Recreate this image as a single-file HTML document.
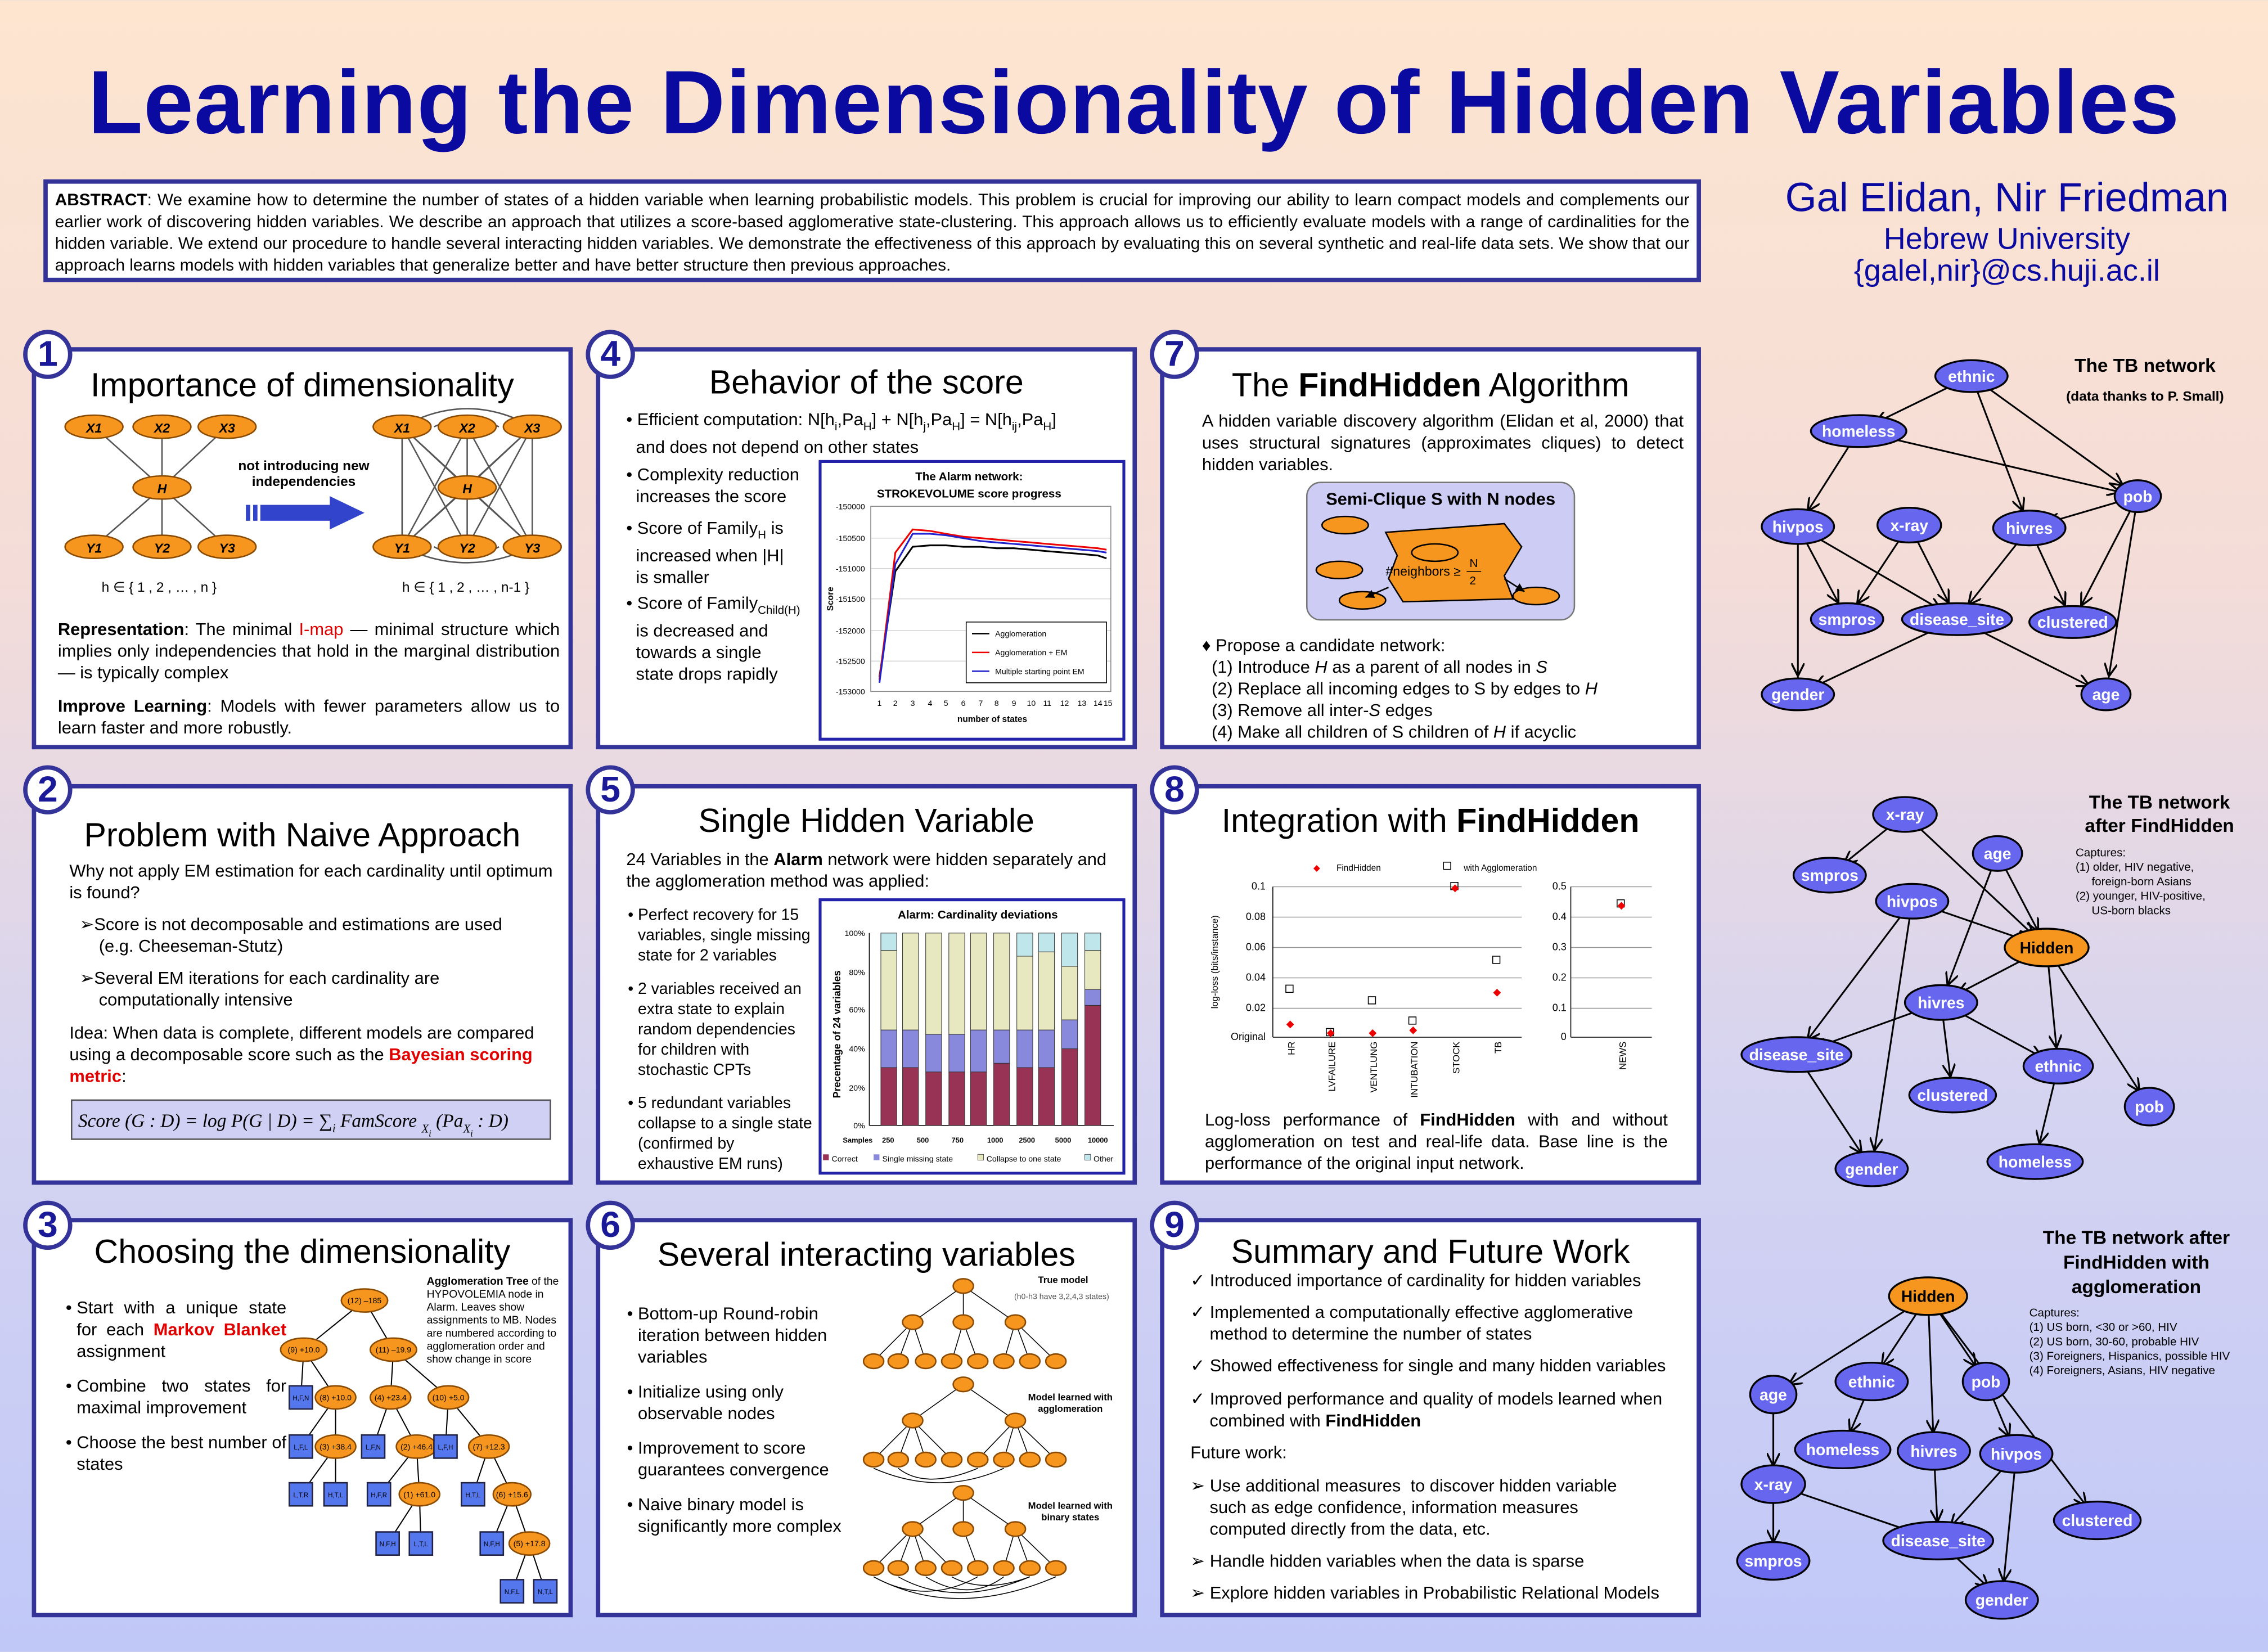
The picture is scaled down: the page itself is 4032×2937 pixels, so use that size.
<!DOCTYPE html>
<html><head><meta charset="utf-8"><style>
html,body{margin:0;padding:0}
body{width:4032px;height:2937px;overflow:hidden;background:linear-gradient(#fde5d0 0%,#f4dcd8 35%,#d6d4f0 65%,#c0c8f8 100%);font-family:"Liberation Sans",sans-serif}
#p{position:absolute;left:0;top:0;width:1568px;height:1142px;transform:scale(2.5714,2.5718);transform-origin:0 0}
.a{position:absolute}
.pn{position:absolute;background:#fff;border:3px solid #333399;box-sizing:border-box}
.num{position:absolute;width:34px;height:34px;border-radius:50%;background:#fff;border:3px solid #333399;box-sizing:border-box;color:#1a1a99;font-weight:bold;font-size:25px;text-align:center;line-height:29px}
.tt{position:absolute;left:0;right:0;text-align:center;font-size:23px;color:#000}
.tx{position:absolute;font-size:12px;line-height:15px;color:#000}
.sm{font-size:11px;line-height:14px}
.red{color:#e00000;font-weight:bold}
ul{margin:0;padding-left:10px}
li{margin-bottom:9px}
svg{position:absolute;overflow:visible}
.nd{fill:#6666ee;stroke:#000;stroke-width:1.3}
.nh{fill:#f7961e;stroke:#000;stroke-width:1.3}
.nl{fill:#fff;font-weight:bold;font-size:11px;text-anchor:middle;font-family:"Liberation Sans",sans-serif}
.ed line{stroke:#000;stroke-width:1.2;marker-end:url(#ar)}
.on{fill:#f7961e;stroke:#8a4a00;stroke-width:1}
.ol{font-size:9px;font-style:italic;font-weight:bold;text-anchor:middle;fill:#000;font-family:"Liberation Sans",sans-serif}
.sq rect{fill:#5577ee;stroke:#224}
</style></head><body><div id="p">
<svg width="0" height="0" style="position:absolute"><defs>
<marker id="ar" viewBox="0 0 10 10" refX="24" refY="5" markerWidth="9" markerHeight="9" markerUnits="userSpaceOnUse" orient="auto"><path d="M0,0 L10,5 L0,10" fill="none" stroke="#000" stroke-width="1.5"/></marker>
<marker id="ar2" viewBox="0 0 10 10" refX="10" refY="5" markerWidth="6" markerHeight="6" markerUnits="userSpaceOnUse" orient="auto"><path d="M0,0 L10,5 L0,10z" fill="#000"/></marker>
</defs></svg>

<div class="a" style="left:0;right:0;top:36px;text-align:center;font-size:62px;font-weight:bold;color:#0a0aa0;letter-spacing:0.5px">Learning the Dimensionality of Hidden Variables</div>

<div class="a" style="left:30px;top:124px;width:1146px;height:71px;background:#fff;border:3px solid #333399;box-sizing:border-box;padding:4px 5px;font-size:11.6px;line-height:15px;text-align:justify"><b>ABSTRACT</b>: We examine how to determine the number of states of a hidden variable when learning probabilistic models. This problem is crucial for improving our ability to learn compact models and complements our earlier work of discovering hidden variables. We describe an approach that utilizes a score-based agglomerative state-clustering. This approach allows us to efficiently evaluate models with a range of cardinalities for the hidden variable. We extend our procedure to handle several interacting hidden variables. We demonstrate the effectiveness of this approach by evaluating this on several synthetic and real-life data sets. We show that our approach learns models with hidden variables that generalize better and have better structure then previous approaches.</div>

<div class="a" style="left:1200px;width:375px;top:120px;text-align:center;color:#0a0aa0">
<div style="font-size:28px;line-height:34px">Gal Elidan, Nir Friedman</div>
<div style="font-size:21px;line-height:23px">Hebrew University</div>
<div style="font-size:21px;line-height:22px">{galel,nir}@cs.huji.ac.il</div></div>

<!-- Panel 1 -->
<div class="pn" style="left:22px;top:240px;width:374px;height:278px">
<div class="tt" style="top:10px">Importance of dimensionality</div>
<div class="tx" style="left:15px;top:185px;width:347px;text-align:justify"><b>Representation</b>: The minimal <span class="red" style="font-weight:normal">I-map</span> — minimal structure which implies only independencies that hold in the marginal distribution — is typically complex</div>
<div class="tx" style="left:15px;top:238px;width:347px;text-align:justify"><b>Improve Learning</b>: Models with fewer parameters allow us to learn faster and more robustly.</div>
</div>
<svg style="left:0;top:0" width="1568" height="1142">
<g stroke="#555" stroke-width="1" fill="none">
<line x1="65" y1="295" x2="112" y2="337"/><line x1="112" y1="295" x2="112" y2="337"/><line x1="157" y1="295" x2="112" y2="337"/>
<line x1="112" y1="337" x2="65" y2="378"/><line x1="112" y1="337" x2="112" y2="378"/><line x1="112" y1="337" x2="157" y2="378"/>
<line x1="278" y1="295" x2="323" y2="337"/><line x1="323" y1="295" x2="323" y2="337"/><line x1="368" y1="295" x2="323" y2="337"/>
<line x1="323" y1="337" x2="278" y2="378"/><line x1="323" y1="337" x2="323" y2="378"/><line x1="323" y1="337" x2="368" y2="378"/>
<line x1="278" y1="295" x2="323" y2="378"/><line x1="278" y1="295" x2="368" y2="378"/><line x1="323" y1="295" x2="278" y2="378"/><line x1="323" y1="295" x2="368" y2="378"/><line x1="368" y1="295" x2="278" y2="378"/><line x1="368" y1="295" x2="323" y2="378"/>
<line x1="278" y1="295" x2="278" y2="378"/><line x1="368" y1="295" x2="368" y2="378"/>
<path d="M278,295 Q323,270 368,295"/><path d="M278,378 Q323,400 368,378"/><path d="M300,295 Q323,285 345,295"/><path d="M300,378 Q323,390 345,378"/>
</g>
<g>
<ellipse class="on" cx="65" cy="295" rx="20" ry="8"/><ellipse class="on" cx="112" cy="295" rx="20" ry="8"/><ellipse class="on" cx="157" cy="295" rx="20" ry="8"/>
<ellipse class="on" cx="112" cy="337" rx="20" ry="8"/>
<ellipse class="on" cx="65" cy="378" rx="20" ry="8"/><ellipse class="on" cx="112" cy="378" rx="20" ry="8"/><ellipse class="on" cx="157" cy="378" rx="20" ry="8"/>
<ellipse class="on" cx="278" cy="295" rx="20" ry="8"/><ellipse class="on" cx="323" cy="295" rx="20" ry="8"/><ellipse class="on" cx="368" cy="295" rx="20" ry="8"/>
<ellipse class="on" cx="323" cy="337" rx="20" ry="8"/>
<ellipse class="on" cx="278" cy="378" rx="20" ry="8"/><ellipse class="on" cx="323" cy="378" rx="20" ry="8"/><ellipse class="on" cx="368" cy="378" rx="20" ry="8"/>
</g>
<g class="ol"><text x="65" y="299">X1</text><text x="112" y="299">X2</text><text x="157" y="299">X3</text><text x="112" y="341">H</text><text x="65" y="382">Y1</text><text x="112" y="382">Y2</text><text x="157" y="382">Y3</text>
<text x="278" y="299">X1</text><text x="323" y="299">X2</text><text x="368" y="299">X3</text><text x="323" y="341">H</text><text x="278" y="382">Y1</text><text x="323" y="382">Y2</text><text x="368" y="382">Y3</text></g>
<text x="210" y="325" font-size="9.5" font-weight="bold" text-anchor="middle" font-family="Liberation Sans">not introducing new</text>
<text x="210" y="336" font-size="9.5" font-weight="bold" text-anchor="middle" font-family="Liberation Sans">independencies</text>
<rect x="170" y="349" width="3" height="11" fill="#3344cc"/><rect x="175" y="349" width="3" height="11" fill="#3344cc"/><rect x="180" y="349" width="50" height="11" fill="#3344cc"/>
<path d="M228,343 L252,354.5 L228,366z" fill="#3344cc"/>
<text x="110" y="409" font-size="9.5" text-anchor="middle" font-family="Liberation Sans">h ∈ { 1 , 2 , … , n }</text>
<text x="322" y="409" font-size="9.5" text-anchor="middle" font-family="Liberation Sans">h ∈ { 1 , 2 , … , n-1 }</text>
</svg>

<!-- Panel 2 -->
<div class="pn" style="left:22px;top:542px;width:374px;height:277px">
<div class="tt" style="top:19px">Problem with Naive Approach</div>
<div class="tx" style="left:23px;top:50px;width:340px">Why not apply EM estimation for each cardinality until optimum is found?</div>
<div class="tx" style="left:30px;top:87px;width:340px">➢Score is not decomposable and estimations are used<br>&nbsp;&nbsp;&nbsp;&nbsp;(e.g. Cheeseman-Stutz)</div>
<div class="tx" style="left:30px;top:124px;width:340px">➢Several EM iterations for each cardinality are<br>&nbsp;&nbsp;&nbsp;&nbsp;computationally intensive</div>
<div class="tx" style="left:23px;top:162px;width:340px">Idea: When data is complete, different models are compared using a decomposable score such as the <span class="red" style="font-weight:bold">Bayesian scoring metric</span>:</div>
<div class="a" style="left:24px;top:215px;width:332px;height:28px;background:#d0d0f4;border:1px solid #555;font-family:'Liberation Serif',serif;font-style:italic;font-size:13px;line-height:28px;padding-left:4px;box-sizing:border-box;white-space:nowrap;overflow:hidden">Score (G : D) = log P(G | D) = ∑<sub style="font-size:8px">i</sub> FamScore <sub style="font-size:8px">X<sub>i</sub></sub> (Pa<sub style="font-size:8px">X<sub>i</sub></sub> : D)</div>
</div>

<!-- Panel 3 -->
<div class="pn" style="left:22px;top:842px;width:374px;height:276px">
<div class="tt" style="top:7px">Choosing the dimensionality</div>
<div class="tx" style="left:18px;top:52px;width:155px;text-align:justify"><ul style="list-style:'• ';padding-left:10px"><li>Start with a unique state for each <span class="red">Markov Blanket</span> assignment</li><li>Combine two states for maximal improvement</li><li>Choose the best number of states</li></ul></div>
<div class="tx" style="left:270px;top:36px;width:95px;font-size:7.5px;line-height:9px"><b>Agglomeration Tree</b> of the HYPOVOLEMIA node in Alarm. Leaves show assignments to MB. Nodes are numbered according to agglomeration order and show change in score</div>
</div>
<svg style="left:0;top:0" width="1568" height="1142">
<g stroke="#000" stroke-width="0.8">
<line x1="252" y1="899" x2="210" y2="933"/><line x1="252" y1="899" x2="272" y2="933"/>
<line x1="210" y1="933" x2="208" y2="966"/><line x1="210" y1="933" x2="232" y2="966"/>
<line x1="232" y1="966" x2="208" y2="1000"/><line x1="232" y1="966" x2="232" y2="1000"/>
<line x1="232" y1="1000" x2="208" y2="1033"/><line x1="232" y1="1000" x2="232" y2="1033"/>
<line x1="272" y1="933" x2="270" y2="966"/><line x1="272" y1="933" x2="310" y2="966"/>
<line x1="270" y1="966" x2="258" y2="1000"/><line x1="270" y1="966" x2="288" y2="1000"/>
<line x1="288" y1="1000" x2="262" y2="1033"/><line x1="288" y1="1000" x2="290" y2="1033"/>
<line x1="290" y1="1033" x2="268" y2="1067"/><line x1="290" y1="1033" x2="291" y2="1067"/>
<line x1="310" y1="966" x2="308" y2="1000"/><line x1="310" y1="966" x2="338" y2="1000"/>
<line x1="338" y1="1000" x2="327" y2="1033"/><line x1="338" y1="1000" x2="354" y2="1033"/>
<line x1="354" y1="1033" x2="340" y2="1067"/><line x1="354" y1="1033" x2="366" y2="1067"/>
<line x1="366" y1="1067" x2="354" y2="1100"/><line x1="366" y1="1067" x2="377" y2="1100"/>
</g>
<g class="on"><ellipse cx="252" cy="899" rx="16" ry="8"/><ellipse cx="210" cy="933" rx="16" ry="8"/><ellipse cx="272" cy="933" rx="16" ry="8"/><ellipse cx="232" cy="966" rx="14" ry="8"/><ellipse cx="270" cy="966" rx="14" ry="8"/><ellipse cx="310" cy="966" rx="14" ry="8"/><ellipse cx="232" cy="1000" rx="14" ry="8"/><ellipse cx="288" cy="1000" rx="14" ry="8"/><ellipse cx="338" cy="1000" rx="14" ry="8"/><ellipse cx="290" cy="1033" rx="14" ry="8"/><ellipse cx="354" cy="1033" rx="13" ry="8"/><ellipse cx="366" cy="1067" rx="14" ry="8"/></g>
<g class="sq"><rect x="200" y="958" width="16" height="16"/><rect x="200" y="992" width="16" height="16"/><rect x="200" y="1025" width="16" height="16"/><rect x="224" y="1025" width="16" height="16"/><rect x="250" y="992" width="16" height="16"/><rect x="254" y="1025" width="16" height="16"/><rect x="300" y="992" width="16" height="16"/><rect x="260" y="1059" width="16" height="16"/><rect x="283" y="1059" width="16" height="16"/><rect x="319" y="1025" width="16" height="16"/><rect x="332" y="1059" width="16" height="16"/><rect x="346" y="1092" width="16" height="16"/><rect x="369" y="1092" width="16" height="16"/></g>
<g font-size="4.5" text-anchor="middle" font-family="Liberation Sans"><text x="208" y="968">H,F,N</text><text x="208" y="1002">L,F,L</text><text x="208" y="1035">L,T,R</text><text x="232" y="1035">H,T,L</text><text x="258" y="1002">L,F,N</text><text x="262" y="1035">H,F,R</text><text x="308" y="1002">L,F,H</text><text x="268" y="1069">N,F,H</text><text x="291" y="1069">L,T,L</text><text x="327" y="1035">H,T,L</text><text x="340" y="1069">N,F,H</text><text x="354" y="1102">N,F,L</text><text x="377" y="1102">N,T,L</text></g>
<g font-size="5.5" text-anchor="middle" font-family="Liberation Sans"><text x="252" y="901">(12) –185</text><text x="210" y="935">(9) +10.0</text><text x="272" y="935">(11) –19.9</text><text x="232" y="968">(8) +10.0</text><text x="270" y="968">(4) +23.4</text><text x="310" y="968">(10) +5.0</text><text x="232" y="1002">(3) +38.4</text><text x="288" y="1002">(2) +46.4</text><text x="338" y="1002">(7) +12.3</text><text x="290" y="1035">(1) +61.0</text><text x="354" y="1035">(6) +15.6</text><text x="366" y="1069">(5) +17.8</text></g>
</svg>

<!-- Panel 4 -->
<div class="pn" style="left:412px;top:240px;width:374px;height:278px">
<div class="tt" style="top:8px">Behavior of the score</div>
<div class="tx" style="left:18px;top:40px;width:345px">• Efficient computation: N[h<sub style="font-size:8px">i</sub>,Pa<sub style="font-size:8px">H</sub>] + N[h<sub style="font-size:8px">j</sub>,Pa<sub style="font-size:8px">H</sub>] = N[h<sub style="font-size:8px">ij</sub>,Pa<sub style="font-size:8px">H</sub>]<br>&nbsp;&nbsp;and does not depend on other states</div>
<div class="tx" style="left:18px;top:78px;width:140px">• Complexity reduction<br>&nbsp;&nbsp;increases the score</div>
<div class="tx" style="left:18px;top:115px;width:140px">• Score of Family<sub style="font-size:8px">H</sub> is<br>&nbsp;&nbsp;increased when |H|<br>&nbsp;&nbsp;is smaller</div>
<div class="tx" style="left:18px;top:167px;width:140px">• Score of Family<sub style="font-size:8px">Child(H)</sub><br>&nbsp;&nbsp;is decreased and<br>&nbsp;&nbsp;towards a single<br>&nbsp;&nbsp;state drops rapidly</div>
<div class="a" style="left:151px;top:75px;width:212px;height:194px;border:2px solid #2222aa;box-sizing:border-box;background:#fff"></div>
</div>
<svg style="left:0;top:0" width="1568" height="1142">
<text x="670" y="332" font-size="8" font-weight="bold" text-anchor="middle" font-family="Liberation Sans">The Alarm network:</text>
<text x="670" y="344" font-size="8" font-weight="bold" text-anchor="middle" font-family="Liberation Sans">STROKEVOLUME score progress</text>
<g stroke="#ccc" stroke-width="0.5"><line x1="602" y1="350" x2="768" y2="350"/><line x1="602" y1="372" x2="768" y2="372"/><line x1="602" y1="393" x2="768" y2="393"/><line x1="602" y1="414" x2="768" y2="414"/><line x1="602" y1="436" x2="768" y2="436"/><line x1="602" y1="457" x2="768" y2="457"/></g>
<rect x="602" y="350" width="166" height="128" fill="none" stroke="#888" stroke-width="0.6"/>
<g font-size="5.5" text-anchor="end" font-family="Liberation Sans"><text x="598" y="352">-150000</text><text x="598" y="374">-150500</text><text x="598" y="395">-151000</text><text x="598" y="416">-151500</text><text x="598" y="438">-152000</text><text x="598" y="459">-152500</text><text x="598" y="480">-153000</text></g>
<g font-size="5.5" text-anchor="middle" font-family="Liberation Sans"><text x="608" y="488">1</text><text x="619" y="488">2</text><text x="631" y="488">3</text><text x="643" y="488">4</text><text x="654" y="488">5</text><text x="666" y="488">6</text><text x="678" y="488">7</text><text x="689" y="488">8</text><text x="701" y="488">9</text><text x="713" y="488">10</text><text x="724" y="488">11</text><text x="736" y="488">12</text><text x="748" y="488">13</text><text x="759" y="488">14</text><text x="766" y="488">15</text></g>
<text x="686" y="499" font-size="6" font-weight="bold" text-anchor="middle" font-family="Liberation Sans">number of states</text>
<text x="576" y="414" font-size="6" font-weight="bold" text-anchor="middle" transform="rotate(-90 576 414)" font-family="Liberation Sans">Score</text>
<polyline fill="none" stroke="#000" stroke-width="1.2" points="608,468 619,395 631,378 643,377 654,377 666,378 678,378 689,379 701,379 713,380 724,381 736,382 748,383 759,384 765,386"/>
<polyline fill="none" stroke="#e00" stroke-width="1.2" points="608,470 619,382 631,366 643,367 654,369 666,371 678,372 689,373 701,374 713,375 724,376 736,377 748,378 759,379 765,380"/>
<polyline fill="none" stroke="#22c" stroke-width="1.2" points="608,472 619,390 631,369 643,369 654,370 666,372 678,374 689,375 701,376 713,377 724,378 736,379 748,380 759,381 765,382"/>
<rect x="668" y="430" width="97" height="42" fill="#fff" stroke="#000" stroke-width="0.6"/>
<g font-size="5.5" font-family="Liberation Sans"><line x1="672" y1="438" x2="684" y2="438" stroke="#000"/><text x="688" y="440">Agglomeration</text><line x1="672" y1="451" x2="684" y2="451" stroke="#e00"/><text x="688" y="453">Agglomeration + EM</text><line x1="672" y1="464" x2="684" y2="464" stroke="#22c"/><text x="688" y="466">Multiple starting point EM</text></g>
</svg>

<!-- Panel 5 -->
<div class="pn" style="left:412px;top:542px;width:374px;height:277px">
<div class="tt" style="top:9px">Single Hidden Variable</div>
<div class="tx" style="left:18px;top:42px;width:345px">24 Variables in the <b>Alarm</b> network were hidden separately and the agglomeration method was applied:</div>
<div class="tx sm" style="left:18px;top:81px;width:130px"><ul style="list-style:'• ';padding-left:8px"><li>Perfect recovery for 15 variables, single missing state for 2 variables</li><li>2 variables received an extra state to explain random dependencies for children with stochastic CPTs</li><li>5 redundant variables collapse to a single state (confirmed by exhaustive EM runs)</li></ul></div>
<div class="a" style="left:151px;top:76px;width:212px;height:191px;border:2px solid #2222aa;box-sizing:border-box;background:#fff"></div>
</div>
<svg style="left:0;top:0" width="1568" height="1142">
<text x="676" y="635" font-size="8" font-weight="bold" text-anchor="middle" font-family="Liberation Sans">Alarm: Cardinality deviations</text>
<text x="581" y="715" font-size="7" font-weight="bold" text-anchor="middle" transform="rotate(-90 581 715)" font-family="Liberation Sans">Precentage of 24 variables</text>
<g font-size="5.5" text-anchor="end" font-family="Liberation Sans"><text x="598" y="647">100%</text><text x="598" y="674">80%</text><text x="598" y="700">60%</text><text x="598" y="727">40%</text><text x="598" y="754">20%</text><text x="598" y="780">0%</text></g>
<line x1="601" y1="645" x2="601" y2="778" stroke="#000" stroke-width="0.6"/><line x1="601" y1="778" x2="770" y2="778" stroke="#000" stroke-width="0.6"/>
<g stroke="#333" stroke-width="0.4">
<rect x="609" y="738" width="11" height="40" fill="#993355"/><rect x="609" y="712" width="11" height="26" fill="#8888dd"/><rect x="609" y="657" width="11" height="55" fill="#e8e8c0"/><rect x="609" y="645" width="11" height="12" fill="#bfe6ea"/>
<rect x="624" y="738" width="11" height="40" fill="#993355"/><rect x="624" y="712" width="11" height="26" fill="#8888dd"/><rect x="624" y="645" width="11" height="67" fill="#e8e8c0"/>
<rect x="640" y="741" width="11" height="37" fill="#993355"/><rect x="640" y="715" width="11" height="26" fill="#8888dd"/><rect x="640" y="645" width="11" height="70" fill="#e8e8c0"/>
<rect x="656" y="741" width="11" height="37" fill="#993355"/><rect x="656" y="715" width="11" height="26" fill="#8888dd"/><rect x="656" y="645" width="11" height="70" fill="#e8e8c0"/>
<rect x="671" y="741" width="11" height="37" fill="#993355"/><rect x="671" y="712" width="11" height="29" fill="#8888dd"/><rect x="671" y="645" width="11" height="67" fill="#e8e8c0"/>
<rect x="687" y="735" width="11" height="43" fill="#993355"/><rect x="687" y="712" width="11" height="23" fill="#8888dd"/><rect x="687" y="645" width="11" height="67" fill="#e8e8c0"/>
<rect x="703" y="738" width="11" height="40" fill="#993355"/><rect x="703" y="712" width="11" height="26" fill="#8888dd"/><rect x="703" y="661" width="11" height="51" fill="#e8e8c0"/><rect x="703" y="645" width="11" height="16" fill="#bfe6ea"/>
<rect x="718" y="738" width="11" height="40" fill="#993355"/><rect x="718" y="712" width="11" height="26" fill="#8888dd"/><rect x="718" y="658" width="11" height="54" fill="#e8e8c0"/><rect x="718" y="645" width="11" height="13" fill="#bfe6ea"/>
<rect x="734" y="725" width="11" height="53" fill="#993355"/><rect x="734" y="705" width="11" height="20" fill="#8888dd"/><rect x="734" y="668" width="11" height="37" fill="#e8e8c0"/><rect x="734" y="645" width="11" height="23" fill="#bfe6ea"/>
<rect x="750" y="695" width="11" height="83" fill="#993355"/><rect x="750" y="684" width="11" height="11" fill="#8888dd"/><rect x="750" y="657" width="11" height="27" fill="#e8e8c0"/><rect x="750" y="645" width="11" height="12" fill="#bfe6ea"/>
</g>
<g font-size="5" font-weight="bold" text-anchor="middle" font-family="Liberation Sans"><text x="593" y="790">Samples</text><text x="614" y="790">250</text><text x="638" y="790">500</text><text x="662" y="790">750</text><text x="688" y="790">1000</text><text x="710" y="790">2500</text><text x="735" y="790">5000</text><text x="759" y="790">10000</text></g>
<g font-size="5.5" font-family="Liberation Sans"><rect x="569" y="798" width="4" height="4" fill="#993355"/><text x="575" y="803">Correct</text><rect x="604" y="798" width="4" height="4" fill="#8888dd"/><text x="610" y="803">Single missing state</text><rect x="676" y="798" width="4" height="4" fill="#e8e8c0" stroke="#333" stroke-width="0.3"/><text x="682" y="803">Collapse to one state</text><rect x="750" y="798" width="4" height="4" fill="#bfe6ea" stroke="#333" stroke-width="0.3"/><text x="756" y="803">Other</text></g>
</svg>

<!-- Panel 6 -->
<div class="pn" style="left:412px;top:842px;width:374px;height:276px">
<div class="tt" style="top:9px">Several interacting variables</div>
<div class="tx" style="left:18px;top:56px;width:165px"><ul style="list-style:'• ';padding-left:8px"><li>Bottom-up Round-robin iteration between hidden variables</li><li>Initialize using only observable nodes</li><li>Improvement to score guarantees convergence</li><li>Naive binary model is significantly more complex</li></ul></div>
</div>
<svg style="left:0;top:0" width="1568" height="1142">
<g stroke="#000" stroke-width="0.6">
<line x1="666" y1="889" x2="631" y2="914"/><line x1="666" y1="889" x2="666" y2="914"/><line x1="666" y1="889" x2="702" y2="914"/>
<line x1="631" y1="914" x2="604" y2="941"/><line x1="631" y1="914" x2="621" y2="941"/><line x1="631" y1="914" x2="640" y2="941"/><line x1="666" y1="914" x2="658" y2="941"/><line x1="666" y1="914" x2="676" y2="941"/><line x1="702" y1="914" x2="694" y2="941"/><line x1="702" y1="914" x2="712" y2="941"/><line x1="702" y1="914" x2="730" y2="941"/>
<line x1="666" y1="957" x2="631" y2="982"/><line x1="666" y1="957" x2="702" y2="982"/>
<line x1="631" y1="982" x2="604" y2="1009"/><line x1="631" y1="982" x2="621" y2="1009"/><line x1="631" y1="982" x2="640" y2="1009"/><line x1="631" y1="982" x2="658" y2="1009"/><line x1="702" y1="982" x2="676" y2="1009"/><line x1="702" y1="982" x2="694" y2="1009"/><line x1="702" y1="982" x2="712" y2="1009"/><line x1="702" y1="982" x2="730" y2="1009"/>
<line x1="666" y1="1032" x2="631" y2="1057"/><line x1="666" y1="1032" x2="702" y2="1057"/><line x1="666" y1="1032" x2="666" y2="1057"/>
<line x1="631" y1="1057" x2="604" y2="1084"/><line x1="631" y1="1057" x2="621" y2="1084"/><line x1="631" y1="1057" x2="640" y2="1084"/><line x1="631" y1="1057" x2="658" y2="1084"/><line x1="666" y1="1057" x2="676" y2="1084"/><line x1="702" y1="1057" x2="694" y2="1084"/><line x1="702" y1="1057" x2="712" y2="1084"/><line x1="702" y1="1057" x2="730" y2="1084"/>
</g>
<g fill="none" stroke="#000" stroke-width="0.6"><path d="M621,1015 Q640,1030 676,1015"/><path d="M604,1015 Q650,1035 694,1015"/><path d="M604,1090 Q660,1120 730,1090"/><path d="M621,1090 Q660,1112 712,1090"/><path d="M640,1090 Q670,1108 694,1090"/><path d="M658,1090 Q680,1102 712,1090"/><path d="M604,1090 Q640,1110 676,1090"/></g>
<g class="on">
<ellipse cx="666" cy="889" rx="7" ry="5"/><ellipse cx="631" cy="914" rx="7" ry="5"/><ellipse cx="666" cy="914" rx="7" ry="5"/><ellipse cx="702" cy="914" rx="7" ry="5"/>
<ellipse cx="604" cy="941" rx="7" ry="5"/><ellipse cx="621" cy="941" rx="7" ry="5"/><ellipse cx="640" cy="941" rx="7" ry="5"/><ellipse cx="658" cy="941" rx="7" ry="5"/><ellipse cx="676" cy="941" rx="7" ry="5"/><ellipse cx="694" cy="941" rx="7" ry="5"/><ellipse cx="712" cy="941" rx="7" ry="5"/><ellipse cx="730" cy="941" rx="7" ry="5"/>
<ellipse cx="666" cy="957" rx="7" ry="5"/><ellipse cx="631" cy="982" rx="7" ry="5"/><ellipse cx="702" cy="982" rx="7" ry="5"/>
<ellipse cx="604" cy="1009" rx="7" ry="5"/><ellipse cx="621" cy="1009" rx="7" ry="5"/><ellipse cx="640" cy="1009" rx="7" ry="5"/><ellipse cx="658" cy="1009" rx="7" ry="5"/><ellipse cx="676" cy="1009" rx="7" ry="5"/><ellipse cx="694" cy="1009" rx="7" ry="5"/><ellipse cx="712" cy="1009" rx="7" ry="5"/><ellipse cx="730" cy="1009" rx="7" ry="5"/>
<ellipse cx="666" cy="1032" rx="7" ry="5"/><ellipse cx="631" cy="1057" rx="7" ry="5"/><ellipse cx="666" cy="1057" rx="7" ry="5"/><ellipse cx="702" cy="1057" rx="7" ry="5"/>
<ellipse cx="604" cy="1084" rx="7" ry="5"/><ellipse cx="621" cy="1084" rx="7" ry="5"/><ellipse cx="640" cy="1084" rx="7" ry="5"/><ellipse cx="658" cy="1084" rx="7" ry="5"/><ellipse cx="676" cy="1084" rx="7" ry="5"/><ellipse cx="694" cy="1084" rx="7" ry="5"/><ellipse cx="712" cy="1084" rx="7" ry="5"/><ellipse cx="730" cy="1084" rx="7" ry="5"/>
</g>
<g font-size="6.5" font-weight="bold" text-anchor="middle" font-family="Liberation Sans"><text x="735" y="887">True model</text><text x="740" y="968">Model learned with</text><text x="740" y="976">agglomeration</text><text x="740" y="1043">Model learned with</text><text x="740" y="1051">binary states</text></g>
<text x="734" y="898" font-size="5.5" fill="#555" text-anchor="middle" font-family="Liberation Sans">(h0-h3 have 3,2,4,3 states)</text>
</svg>

<!-- Panel 7 -->
<div class="pn" style="left:802px;top:240px;width:374px;height:278px">
<div class="tt" style="top:10px">The <b>FindHidden</b> Algorithm</div>
<div class="tx" style="left:26px;top:41px;width:333px;text-align:justify">A hidden variable discovery algorithm (Elidan et al, 2000) that uses structural signatures (approximates cliques) to detect hidden variables.</div>
<div class="a" style="left:98px;top:90px;width:186px;height:96px;background:#ccccf4;border:1px solid #777;border-radius:10px;box-sizing:border-box"></div>
<div class="tx" style="left:98px;top:95px;width:186px;text-align:center;font-size:12px"><b>Semi-Clique S with N nodes</b></div>
<div class="tx" style="left:26px;top:196px;width:340px">♦ Propose a candidate network:<br>&nbsp;&nbsp;(1) Introduce <i>H</i> as a parent of all nodes in <i>S</i><br>&nbsp;&nbsp;(2) Replace all incoming edges to S by edges to <i>H</i><br>&nbsp;&nbsp;(3) Remove all inter-<i>S</i> edges<br>&nbsp;&nbsp;(4) Make all children of S children of <i>H</i> if acyclic</div>
</div>
<svg style="left:0;top:0" width="1568" height="1142">
<path d="M958,368 L1040,362 L1052,378 L1040,398 L1046,414 L970,416 L960,400 L966,384z" fill="#f7961e" stroke="#000" stroke-width="1"/>
<g fill="#f7961e" stroke="#000" stroke-width="1"><ellipse cx="930" cy="363" rx="16" ry="6"/><ellipse cx="926" cy="394" rx="16" ry="6"/><ellipse cx="992" cy="382" rx="16" ry="6"/><ellipse cx="942" cy="415" rx="16" ry="6"/><ellipse cx="1062" cy="412" rx="16" ry="6"/></g>
<line x1="960" y1="406" x2="944" y2="413" stroke="#000" marker-end="url(#ar2)"/><line x1="1040" y1="400" x2="1054" y2="409" stroke="#000" marker-end="url(#ar2)"/>
<text x="958" y="398" font-size="9" font-family="Liberation Sans">#neighbors ≥</text><text x="1016" y="392" font-size="8" font-family="Liberation Sans">N</text><line x1="1014" y1="395" x2="1024" y2="395" stroke="#000" stroke-width="0.6"/><text x="1016" y="404" font-size="8" font-family="Liberation Sans">2</text>
</svg>

<!-- Panel 8 -->
<div class="pn" style="left:802px;top:542px;width:374px;height:277px">
<div class="tt" style="top:9px">Integration with <b>FindHidden</b></div>
<div class="tx" style="left:28px;top:222px;width:320px;text-align:justify">Log-loss performance of <b>FindHidden</b> with and without agglomeration on test and real-life data. Base line is the performance of the original input network.</div>
</div>
<svg style="left:0;top:0" width="1568" height="1142">
<text x="908" y="602" font-size="6" fill="#e00" font-family="Liberation Sans">◆</text><text x="924" y="602" font-size="6" font-family="Liberation Sans">FindHidden</text>
<rect x="998" y="596" width="5" height="5" fill="none" stroke="#000" stroke-width="0.6"/><text x="1012" y="602" font-size="6" font-family="Liberation Sans">with Agglomeration</text>
<g stroke="#999" stroke-width="0.6"><line x1="880" y1="613" x2="1052" y2="613"/><line x1="880" y1="634" x2="1052" y2="634"/><line x1="880" y1="655" x2="1052" y2="655"/><line x1="880" y1="676" x2="1052" y2="676"/><line x1="880" y1="697" x2="1052" y2="697"/>
<line x1="1086" y1="613" x2="1142" y2="613"/><line x1="1086" y1="634" x2="1142" y2="634"/><line x1="1086" y1="655" x2="1142" y2="655"/><line x1="1086" y1="676" x2="1142" y2="676"/><line x1="1086" y1="697" x2="1142" y2="697"/></g>
<line x1="880" y1="613" x2="880" y2="717" stroke="#000" stroke-width="0.6"/><line x1="880" y1="717" x2="1052" y2="717" stroke="#000" stroke-width="0.6"/>
<line x1="1086" y1="613" x2="1086" y2="717" stroke="#000" stroke-width="0.6"/><line x1="1086" y1="717" x2="1142" y2="717" stroke="#000" stroke-width="0.6"/>
<g font-size="7" text-anchor="end" font-family="Liberation Sans"><text x="875" y="615">0.1</text><text x="875" y="636">0.08</text><text x="875" y="657">0.06</text><text x="875" y="678">0.04</text><text x="875" y="699">0.02</text><text x="875" y="719">Original</text>
<text x="1083" y="615">0.5</text><text x="1083" y="636">0.4</text><text x="1083" y="657">0.3</text><text x="1083" y="678">0.2</text><text x="1083" y="699">0.1</text><text x="1083" y="719">0</text></g>
<text x="842" y="665" font-size="6.5" text-anchor="middle" transform="rotate(-90 842 665)" font-family="Liberation Sans">log-loss (bits/instance)</text>
<g fill="none" stroke="#000" stroke-width="0.6"><rect x="889" y="681" width="5" height="5"/><rect x="917" y="711" width="5" height="5"/><rect x="946" y="689" width="5" height="5"/><rect x="974" y="703" width="5" height="5"/><rect x="1003" y="610" width="5" height="5"/><rect x="1032" y="661" width="5" height="5"/><rect x="1118" y="622" width="5" height="5"/></g>
<g fill="#e00" font-size="7" text-anchor="middle"><text x="892" y="710">◆</text><text x="920" y="716">◆</text><text x="949" y="716">◆</text><text x="977" y="714">◆</text><text x="1006" y="616">◆</text><text x="1035" y="688">◆</text><text x="1121" y="628">◆</text></g>
<g font-size="6.5" font-family="Liberation Sans"><text transform="translate(895,720) rotate(-90)" text-anchor="end">HR</text><text transform="translate(923,720) rotate(-90)" text-anchor="end">LVFAILURE</text><text transform="translate(952,720) rotate(-90)" text-anchor="end">VENTLUNG</text><text transform="translate(980,720) rotate(-90)" text-anchor="end">INTUBATION</text><text transform="translate(1009,720) rotate(-90)" text-anchor="end">STOCK</text><text transform="translate(1038,720) rotate(-90)" text-anchor="end">TB</text><text transform="translate(1124,720) rotate(-90)" text-anchor="end">NEWS</text></g>
</svg>

<!-- Panel 9 -->
<div class="pn" style="left:802px;top:842px;width:374px;height:276px">
<div class="tt" style="top:7px">Summary and Future Work</div>
<div class="tx" style="left:18px;top:33px;width:350px">✓ Introduced importance of cardinality for hidden variables</div>
<div class="tx" style="left:18px;top:55px;width:350px">✓ Implemented a computationally effective agglomerative<br>&nbsp;&nbsp;&nbsp;&nbsp;method to determine the number of states</div>
<div class="tx" style="left:18px;top:92px;width:350px">✓ Showed effectiveness for single and many hidden variables</div>
<div class="tx" style="left:18px;top:115px;width:350px">✓ Improved performance and quality of models learned when<br>&nbsp;&nbsp;&nbsp;&nbsp;combined with <b>FindHidden</b></div>
<div class="tx" style="left:18px;top:152px;width:350px">Future work:</div>
<div class="tx" style="left:18px;top:175px;width:350px">➢ Use additional measures &nbsp;to discover hidden variable<br>&nbsp;&nbsp;&nbsp;&nbsp;such as edge confidence, information measures<br>&nbsp;&nbsp;&nbsp;&nbsp;computed directly from the data, etc.</div>
<div class="tx" style="left:18px;top:227px;width:350px">➢ Handle hidden variables when the data is sparse</div>
<div class="tx" style="left:18px;top:249px;width:350px">➢ Explore hidden variables in Probabilistic Relational Models</div>
</div>

<!-- numbers -->
<div class="num" style="left:16px;top:228px">1</div><div class="num" style="left:405px;top:228px">4</div><div class="num" style="left:795px;top:228px">7</div>
<div class="num" style="left:16px;top:529px">2</div><div class="num" style="left:405px;top:529px">5</div><div class="num" style="left:795px;top:529px">8</div>
<div class="num" style="left:16px;top:830px">3</div><div class="num" style="left:405px;top:830px">6</div><div class="num" style="left:795px;top:830px">9</div>

<!-- TB graphs -->
<svg style="left:0;top:0" width="1568" height="1142">
<g font-family="Liberation Sans" font-weight="bold" text-anchor="middle">
<text x="1483" y="257" font-size="13">The TB network</text>
<text x="1483" y="277" font-size="9.5">(data thanks to P. Small)</text>
<text x="1493" y="559" font-size="13">The TB network</text>
<text x="1493" y="575" font-size="13">after FindHidden</text>
<text x="1477" y="860" font-size="13">The TB network after</text>
<text x="1477" y="877" font-size="13">FindHidden with</text>
<text x="1477" y="894" font-size="13">agglomeration</text>
</g>
<g font-family="Liberation Sans" font-size="8">
<text x="1435" y="592">Captures:</text><text x="1435" y="602">(1) older, HIV negative,</text><text x="1435" y="612">&#160;&#160;&#160;&#160;&#160;foreign-born Asians</text><text x="1435" y="622">(2) younger, HIV-positive,</text><text x="1435" y="632">&#160;&#160;&#160;&#160;&#160;US-born blacks</text>
<text x="1403" y="910">Captures:</text><text x="1403" y="920">(1) US born, &lt;30 or &gt;60, HIV</text><text x="1403" y="930">(2) US born, 30-60, probable HIV</text><text x="1403" y="940">(3) Foreigners, Hispanics, possible HIV</text><text x="1403" y="950">(4) Foreigners, Asians, HIV negative</text>
</g>
<g class="ed">
<line x1="1363" y1="260" x2="1285" y2="298"/><line x1="1363" y1="260" x2="1403" y2="365"/><line x1="1363" y1="260" x2="1478" y2="343"/><line x1="1285" y1="298" x2="1478" y2="343"/><line x1="1285" y1="298" x2="1243" y2="364"/><line x1="1478" y1="343" x2="1403" y2="365"/><line x1="1478" y1="343" x2="1456" y2="480"/><line x1="1478" y1="343" x2="1433" y2="430"/><line x1="1243" y1="364" x2="1243" y2="480"/><line x1="1243" y1="364" x2="1353" y2="428"/><line x1="1320" y1="363" x2="1277" y2="428"/><line x1="1320" y1="363" x2="1353" y2="428"/><line x1="1403" y1="365" x2="1353" y2="428"/><line x1="1403" y1="365" x2="1433" y2="430"/><line x1="1353" y1="428" x2="1243" y2="480"/><line x1="1353" y1="428" x2="1456" y2="480"/><line x1="1243" y1="364" x2="1277" y2="428"/>
<line x1="1317" y1="563" x2="1265" y2="605"/><line x1="1317" y1="563" x2="1415" y2="655"/><line x1="1381" y1="590" x2="1342" y2="693"/><line x1="1322" y1="623" x2="1415" y2="655"/><line x1="1322" y1="623" x2="1242" y2="729"/><line x1="1322" y1="623" x2="1294" y2="808"/><line x1="1415" y1="655" x2="1342" y2="693"/><line x1="1415" y1="655" x2="1423" y2="737"/><line x1="1415" y1="655" x2="1486" y2="765"/><line x1="1381" y1="590" x2="1415" y2="655"/><line x1="1342" y1="693" x2="1242" y2="729"/><line x1="1342" y1="693" x2="1350" y2="757"/><line x1="1342" y1="693" x2="1423" y2="737"/><line x1="1242" y1="729" x2="1294" y2="808"/><line x1="1423" y1="737" x2="1407" y2="803"/>
<line x1="1333" y1="896" x2="1226" y2="964"/><line x1="1333" y1="896" x2="1294" y2="955"/><line x1="1333" y1="896" x2="1337" y2="1003"/><line x1="1333" y1="896" x2="1373" y2="955"/><line x1="1333" y1="896" x2="1450" y2="1051"/><line x1="1294" y1="955" x2="1274" y2="1002"/><line x1="1373" y1="955" x2="1394" y2="1005"/><line x1="1226" y1="964" x2="1226" y2="1026"/><line x1="1226" y1="1026" x2="1226" y2="1079"/><line x1="1226" y1="1026" x2="1340" y2="1065"/><line x1="1337" y1="1003" x2="1340" y2="1065"/><line x1="1394" y1="1005" x2="1340" y2="1065"/><line x1="1394" y1="1005" x2="1384" y2="1106"/><line x1="1340" y1="1065" x2="1384" y2="1106"/>
</g>
<g>
<ellipse class="nd" cx="1363" cy="260" rx="25" ry="11"/><ellipse class="nd" cx="1285" cy="298" rx="33" ry="11"/><ellipse class="nd" cx="1478" cy="343" rx="16" ry="11"/><ellipse class="nd" cx="1243" cy="364" rx="25" ry="12"/><ellipse class="nd" cx="1320" cy="363" rx="22" ry="12"/><ellipse class="nd" cx="1403" cy="365" rx="25" ry="12"/><ellipse class="nd" cx="1277" cy="428" rx="25" ry="11"/><ellipse class="nd" cx="1353" cy="428" rx="38" ry="11"/><ellipse class="nd" cx="1433" cy="430" rx="30" ry="11"/><ellipse class="nd" cx="1243" cy="480" rx="25" ry="11"/><ellipse class="nd" cx="1456" cy="480" rx="17" ry="11"/>
<ellipse class="nd" cx="1317" cy="563" rx="22" ry="12"/><ellipse class="nd" cx="1381" cy="590" rx="17" ry="12"/><ellipse class="nd" cx="1265" cy="605" rx="25" ry="12"/><ellipse class="nd" cx="1322" cy="623" rx="25" ry="12"/><ellipse class="nh" cx="1415" cy="655" rx="29" ry="13"/><ellipse class="nd" cx="1342" cy="693" rx="25" ry="12"/><ellipse class="nd" cx="1242" cy="729" rx="38" ry="12"/><ellipse class="nd" cx="1423" cy="737" rx="24" ry="12"/><ellipse class="nd" cx="1350" cy="757" rx="30" ry="12"/><ellipse class="nd" cx="1486" cy="765" rx="17" ry="13"/><ellipse class="nd" cx="1294" cy="808" rx="25" ry="12"/><ellipse class="nd" cx="1407" cy="803" rx="33" ry="12"/>
<ellipse class="nh" cx="1333" cy="896" rx="27" ry="13"/><ellipse class="nd" cx="1226" cy="964" rx="16" ry="13"/><ellipse class="nd" cx="1294" cy="955" rx="25" ry="13"/><ellipse class="nd" cx="1373" cy="955" rx="16" ry="13"/><ellipse class="nd" cx="1274" cy="1002" rx="33" ry="13"/><ellipse class="nd" cx="1337" cy="1003" rx="25" ry="13"/><ellipse class="nd" cx="1394" cy="1005" rx="25" ry="13"/><ellipse class="nd" cx="1226" cy="1026" rx="22" ry="13"/><ellipse class="nd" cx="1450" cy="1051" rx="30" ry="13"/><ellipse class="nd" cx="1340" cy="1065" rx="38" ry="13"/><ellipse class="nd" cx="1226" cy="1079" rx="25" ry="13"/><ellipse class="nd" cx="1384" cy="1106" rx="25" ry="13"/>
</g>
<g class="nl">
<text x="1363" y="264">ethnic</text><text x="1285" y="302">homeless</text><text x="1478" y="347">pob</text><text x="1243" y="368">hivpos</text><text x="1320" y="367">x-ray</text><text x="1403" y="369">hivres</text><text x="1277" y="432">smpros</text><text x="1353" y="432">disease_site</text><text x="1433" y="434">clustered</text><text x="1243" y="484">gender</text><text x="1456" y="484">age</text>
<text x="1317" y="567">x-ray</text><text x="1381" y="594">age</text><text x="1265" y="609">smpros</text><text x="1322" y="627">hivpos</text><text x="1415" y="659" fill="#000">Hidden</text><text x="1342" y="697">hivres</text><text x="1242" y="733">disease_site</text><text x="1423" y="741">ethnic</text><text x="1350" y="761">clustered</text><text x="1486" y="769">pob</text><text x="1294" y="812">gender</text><text x="1407" y="807">homeless</text>
<text x="1333" y="900" fill="#000">Hidden</text><text x="1226" y="968">age</text><text x="1294" y="959">ethnic</text><text x="1373" y="959">pob</text><text x="1274" y="1006">homeless</text><text x="1337" y="1007">hivres</text><text x="1394" y="1009">hivpos</text><text x="1226" y="1030">x-ray</text><text x="1450" y="1055">clustered</text><text x="1340" y="1069">disease_site</text><text x="1226" y="1083">smpros</text><text x="1384" y="1110">gender</text>
</g>
</svg>
</div></body></html>
